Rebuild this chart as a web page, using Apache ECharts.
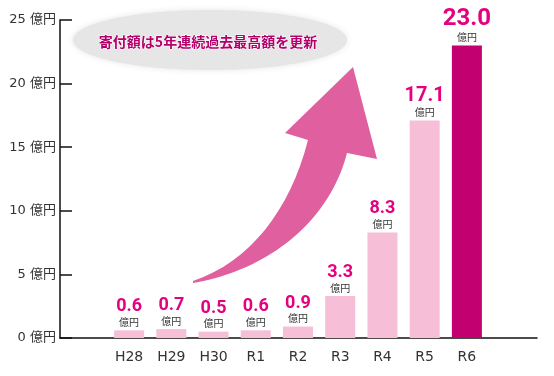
<!DOCTYPE html>
<html>
<head>
<meta charset="utf-8">
<script src="https://cdn.jsdelivr.net/npm/echarts@6/dist/echarts.min.js"></script>
<style>
  html, body { margin: 0; padding: 0; background: #fff; }
  #main { width: 554px; height: 376px; }
</style>
</head>
<body>
<div id="main"></div>
<script>
// 寄付額の推移（億円）
var categories = ['H28', 'H29', 'H30', 'R1', 'R2', 'R3', 'R4', 'R5', 'R6'];
var amounts = [0.6, 0.7, 0.5, 0.6, 0.9, 3.3, 8.3, 17.1, 23.0];
var unit = '億円';
var headline = '寄付額は5年連続過去最高額を更新';

var lightPink = '#f6bfd7';
var deepPink = '#c2006f';
var labelPink = '#e4007f';
var font = '"Noto Sans CJK JP", "Noto Sans", sans-serif';
var axisFont = '"DejaVu Sans", "Noto Sans CJK JP", sans-serif';

// decorative rising arrow
var arrowPath = 'M193,283 C270,270 330,220 347,153 L377,159 L353,67 L285,133 L308,140 C290,210 250,262 193,281 Z';
echarts.graphic.registerShape('bigArrow', echarts.graphic.extendPath(arrowPath, {}));

var last = amounts.length - 1;
var barData = amounts.map(function (v, i) {
  var size = i === last ? 24 : (v >= 10 ? 20 : 18);
  return {
    value: v,
    itemStyle: { color: i === last ? deepPink : lightPink },
    label: {
      rich: {
        v: { fontSize: size, lineHeight: size, fontWeight: 'bold', color: labelPink,
             fontFamily: v < 1 ? '"Liberation Sans Narrow", Roboto, sans-serif' : 'Roboto, sans-serif' },
        u: { fontSize: 10, lineHeight: 13, color: '#333', fontFamily: font }
      }
    }
  };
});

var chart = echarts.init(document.getElementById('main'));
chart.setOption({
  animation: false,
  grid: [
    { left: 60, right: 17, top: 20, bottom: 38 },
    { left: 108, right: 66, top: 20, bottom: 38 }
  ],
  xAxis: [
    {
      gridIndex: 0, type: 'value', min: 0, max: 1,
      axisLine: { show: true, lineStyle: { color: '#111', width: 1.5 } },
      axisTick: { show: false }, axisLabel: { show: false }, splitLine: { show: false }
    },
    {
      gridIndex: 1, type: 'category', data: categories,
      axisLine: { show: false }, axisTick: { show: false },
      axisLabel: { margin: 12, fontSize: 14, color: '#333', fontFamily: axisFont }
    }
  ],
  yAxis: [
    {
      gridIndex: 0, type: 'value', min: 0, max: 25, interval: 5,
      axisLine: { show: true, lineStyle: { color: '#111', width: 1.5 } },
      axisTick: { show: true, inside: true, length: 12, lineStyle: { color: '#111', width: 1.5 } },
      axisLabel: { formatter: '{value} ' + unit, margin: 4, fontSize: 13, color: '#333', fontFamily: axisFont },
      splitLine: { show: false }
    },
    {
      gridIndex: 1, type: 'value', min: 0, max: 25, interval: 5, show: false
    }
  ],
  graphic: [
    {
      type: 'ellipse', z: 1,
      shape: { cx: 210, cy: 40, rx: 137, ry: 30 },
      style: { fill: '#e6e6e6', shadowBlur: 6, shadowColor: '#e6e6e6' }
    },
    {
      type: 'text', z: 2, x: 208, y: 42,
      style: {
        text: headline, fill: '#b3006b', font: 'bold 14px "Noto Sans CJK JP", sans-serif',
        align: 'center', verticalAlign: 'middle', stroke: '#fff', lineWidth: 1
      }
    },
    {
      type: 'bigArrow', z: 5,
      style: { fill: '#e0609f' }
    }
  ],
  series: [{
    type: 'bar',
    xAxisIndex: 1,
    yAxisIndex: 1,
    barWidth: 30,
    data: barData,
    label: {
      show: true,
      position: 'top',
      distance: 1.5,
      formatter: function (p) { return '{v|' + p.value.toFixed(1) + '}\n{u|' + unit + '}'; }
    }
  }]
});
</script>
</body>
</html>
